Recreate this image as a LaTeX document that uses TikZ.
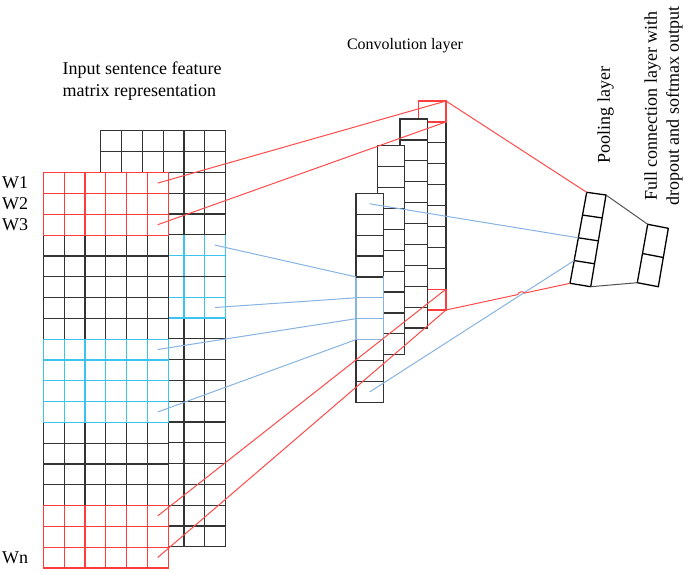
\documentclass[tikz,border=0pt]{standalone}
\usepackage{fontspec}
\setmainfont{Liberation Serif}
\usetikzlibrary{calc}
\definecolor{gridgray}{HTML}{333333}
\definecolor{cellred}{HTML}{FF3C3C}
\definecolor{cellblue}{HTML}{3CC3F0}
\definecolor{linkred}{HTML}{FF4A4A}
\definecolor{linkblue}{HTML}{86B3E2}

\begin{document}
\begin{tikzpicture}[x=1pt,y=-1pt,
    cell/.style={draw=gridgray,line width=1.2pt,fill=white},
    redcell/.style={draw=cellred,line width=1.2pt},
    bluecell/.style={draw=cellblue,line width=1.2pt},
    layer/.style={draw=black,line width=1.3pt,line join=round},
    redlink/.style={draw=linkred,line width=1pt},
    bluelink/.style={draw=linkblue,line width=1pt},
    graylink/.style={draw=gridgray!85,line width=1pt},
    lbl/.style={font=\fontsize{18}{22}\selectfont,inner sep=0pt}]
  \useasboundingbox (0,0) rectangle (685,571);
  % input matrix, back sheet
  \foreach \i in {0,...,5}
    \foreach \j in {0,...,19}
      \draw[cell] (100.7+\i*20.8,130.7+\j*20.8) rectangle ++(20.8,20.8);
  \foreach \i in {0,...,5}
    \foreach \j in {5,...,8}
      \draw[bluecell] (100.7+\i*20.8,130.7+\j*20.8) rectangle ++(20.8,20.8);
  \draw[draw=gridgray,line width=1.2pt] (100.7,234.7) -- ++(124.8,0);
  \draw[draw=gridgray,line width=1.2pt] (100.7,276.3) -- ++(124.8,0);
  % input matrix, front sheet
  \foreach \i in {0,...,5}
    \foreach \j in {0,...,18}
      \draw[cell] (43.3+\i*20.8,172.7+\j*20.8) rectangle ++(20.8,20.8);
  \foreach \i in {0,...,5} {
    \foreach \j in {0,1,2,16,17,18}
      \draw[redcell] (43.3+\i*20.8,172.7+\j*20.8) rectangle ++(20.8,20.8);
    \foreach \j in {8,...,11}
      \draw[bluecell] (43.3+\i*20.8,172.7+\j*20.8) rectangle ++(20.8,20.8);
  }
  % convolution columns, back to front
  \foreach \j in {0,...,9}
    \draw[cell] (418.7,101+\j*20.9) rectangle ++(27.3,20.9);
  \draw[redcell] (418.7,101) rectangle ++(27.3,20.9);
  \draw[redcell] (418.7,289.1) rectangle ++(27.3,20.9);
  \foreach \cx/\cy in {400/119,377.3/145.7,356/193.3}
    \foreach \j in {0,...,9}
      \draw[cell] (\cx,\cy+\j*20.9) rectangle ++(27.3,20.9);
  \foreach \j in {4,5,6}
    \draw[bluecell,draw=linkblue] (356,193.3+\j*20.9) rectangle ++(27.3,20.9);
  \draw[draw=gridgray,line width=1.2pt] (356,276.9) -- ++(27.3,0);
  % end points
  \coordinate (in-r1) at (157.7,183.1);
  \coordinate (in-r3) at (157.7,224.7);
  \coordinate (in-b1) at (215.1,245.1);
  \coordinate (in-b2) at (215.1,307.5);
  \coordinate (in-b3) at (157.7,349.5);
  \coordinate (in-b4) at (157.7,412.0);
  \coordinate (in-rm) at (157.7,515.9);
  \coordinate (in-rn) at (157.7,557.5);
  \coordinate (cv-t1) at (446,101);
  \coordinate (cv-t2) at (446,121.9);
  \coordinate (cv-b1) at (446,289.1);
  \coordinate (cv-b2) at (446,310);
  \coordinate (cv-s1) at (356,276.9);
  \coordinate (cv-s2) at (356,297.8);
  \coordinate (cv-s3) at (356,318.7);
  \coordinate (cv-s4) at (356,339.6);
  \coordinate (cv-top) at (369.7,203.8);
  \coordinate (cv-bot) at (369.7,391.9);
  % pooling and full connection layers
  \coordinate (pl-nw) at (586.7,192.3);
  \coordinate (pl-ne) at (606,195);
  \coordinate (pl-se) at (590.7,286.7);
  \coordinate (pl-sw) at (570,283.3);
  \coordinate (fc-nw) at (647.7,224.3);
  \coordinate (fc-ne) at (668.3,228.3);
  \coordinate (fc-se) at (658.3,286.7);
  \coordinate (fc-sw) at (637.3,282.7);
  \draw[layer] (pl-nw) -- (pl-ne) -- (pl-se) -- (pl-sw) -- cycle;
  \foreach \t in {0.25,0.5,0.75}
    \draw[layer] ($(pl-nw)!\t!(pl-sw)$) -- ($(pl-ne)!\t!(pl-se)$);
  \draw[layer] (fc-nw) -- (fc-ne) -- (fc-se) -- (fc-sw) -- cycle;
  \draw[layer] ($(fc-nw)!0.5!(fc-sw)$) -- ($(fc-ne)!0.5!(fc-se)$);
  \coordinate (pl-h) at ($(pl-nw)!0.5!(pl-sw)$);
  \coordinate (pl-q) at ($(pl-nw)!0.75!(pl-sw)$);
  % connectors
  \draw[redlink] (in-r1) -- (cv-t1);
  \draw[redlink] (in-r3) -- (cv-t2);
  \draw[redlink] (in-rm) -- (cv-b1);
  \draw[redlink] (in-rn) -- (cv-b2);
  \draw[bluelink] (in-b1) -- (cv-s1);
  \draw[bluelink] (in-b2) -- (cv-s2);
  \draw[bluelink] (in-b3) -- (cv-s3);
  \draw[bluelink] (in-b4) -- (cv-s4);
  \draw[redlink] (cv-t1) -- (pl-nw);
  \draw[bluelink] (cv-top) -- (pl-h);
  \draw[bluelink] (cv-bot) -- (pl-q);
  \path (cv-b2) -- (pl-sw) coordinate[pos=0.580] (hop-a) coordinate[pos=0.633] (hop-b);
  \draw[redlink] (cv-b2) -- (hop-a) to[bend left=90] (hop-b) -- (pl-sw);
  \draw[graylink] (pl-ne) -- (fc-nw);
  \draw[graylink] (pl-se) -- (fc-sw);
  % labels
  \node[lbl,anchor=north west,align=left] (title-in) at (62.5,62)
    {Input sentence feature\\matrix representation};
  \node[lbl,font=\fontsize{16}{19}\selectfont] (title-cv) at (405,46) {Convolution layer};
  \node[lbl,rotate=90] (title-pl) at (605.5,115) {Pooling layer};
  \node[lbl,rotate=90,align=center] (title-fc) at (663.5,106)
    {Full connection layer with\\dropout and softmax output};
  \foreach \r/\t in {0/W1,1/W2,2/W3,18/Wn}
    \node[lbl,anchor=west] (w-\r) at (2,183.1+\r*20.8) {\t};
\end{tikzpicture}
\end{document}
